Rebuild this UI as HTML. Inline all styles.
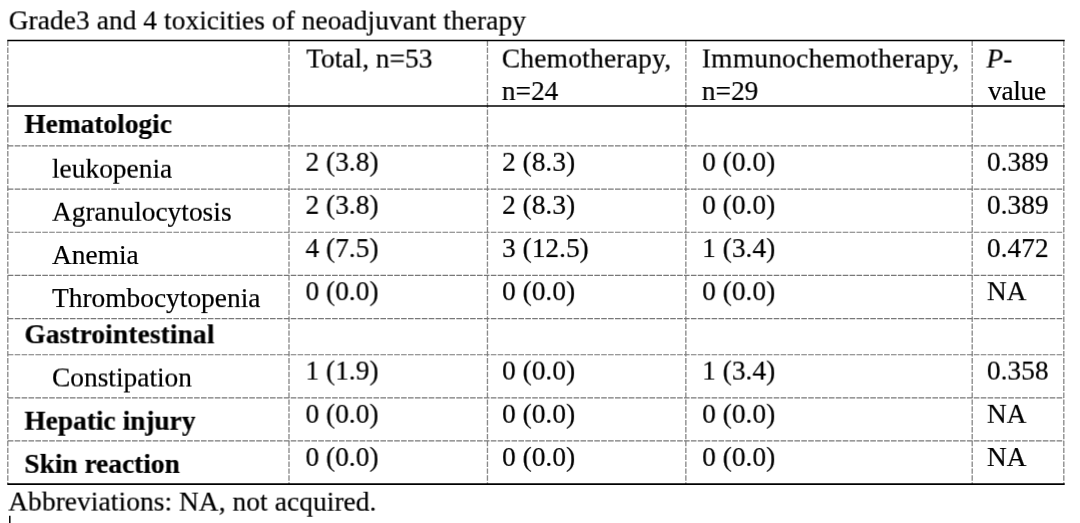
<!DOCTYPE html>
<html><head><meta charset="utf-8"><title>Table</title>
<style>
html,body{margin:0;padding:0;background:#fff;}
body{width:1080px;height:523px;position:relative;overflow:hidden;font-family:"Liberation Serif",serif;font-size:27.4px;color:#000;}
.t{position:absolute;white-space:nowrap;line-height:0;height:0;transform-origin:50% 0;will-change:transform;-webkit-text-stroke:0.2px #000;}
.t span{display:inline-block;line-height:0;vertical-align:baseline;}
</style></head><body>
<svg width="1080" height="523" viewBox="0 0 1080 523" style="position:absolute;left:0;top:0" shape-rendering="auto">
<line x1="7.8" y1="40.6" x2="7.8" y2="484.1" stroke="#8a8a8a" stroke-width="1.35" stroke-dasharray="5.4 1.5"/>
<line x1="289.0" y1="40.6" x2="289.0" y2="484.1" stroke="#8a8a8a" stroke-width="1.35" stroke-dasharray="5.4 1.5"/>
<line x1="487.45" y1="40.6" x2="487.45" y2="484.1" stroke="#8a8a8a" stroke-width="1.35" stroke-dasharray="5.4 1.5"/>
<line x1="685.85" y1="40.6" x2="685.85" y2="484.1" stroke="#8a8a8a" stroke-width="1.35" stroke-dasharray="5.4 1.5"/>
<line x1="972.2" y1="40.6" x2="972.2" y2="484.1" stroke="#8a8a8a" stroke-width="1.35" stroke-dasharray="5.4 1.5"/>
<line x1="1063.8" y1="40.6" x2="1063.8" y2="484.1" stroke="#8a8a8a" stroke-width="1.35" stroke-dasharray="5.4 1.5"/>
<line x1="7.8" y1="145.9" x2="1063.8" y2="145.9" stroke="#787878" stroke-width="1.15" stroke-dasharray="5.6 1.3"/>
<line x1="7.8" y1="189.05" x2="1063.8" y2="189.05" stroke="#787878" stroke-width="1.15" stroke-dasharray="5.6 1.3"/>
<line x1="7.8" y1="232.2" x2="1063.8" y2="232.2" stroke="#787878" stroke-width="1.15" stroke-dasharray="5.6 1.3"/>
<line x1="7.8" y1="275.35" x2="1063.8" y2="275.35" stroke="#787878" stroke-width="1.15" stroke-dasharray="5.6 1.3"/>
<line x1="7.8" y1="318.55" x2="1063.8" y2="318.55" stroke="#787878" stroke-width="1.15" stroke-dasharray="5.6 1.3"/>
<line x1="7.8" y1="354.7" x2="1063.8" y2="354.7" stroke="#787878" stroke-width="1.15" stroke-dasharray="5.6 1.3"/>
<line x1="7.8" y1="397.9" x2="1063.8" y2="397.9" stroke="#787878" stroke-width="1.15" stroke-dasharray="5.6 1.3"/>
<line x1="7.8" y1="440.9" x2="1063.8" y2="440.9" stroke="#787878" stroke-width="1.15" stroke-dasharray="5.6 1.3"/>
<line x1="7.3" y1="40.6" x2="1064.7" y2="40.6" stroke="#000" stroke-width="1.5"/>
<line x1="7.3" y1="106.0" x2="1064.7" y2="106.0" stroke="#000" stroke-width="1.6"/>
<line x1="7.3" y1="484.1" x2="1064.7" y2="484.1" stroke="#000" stroke-width="1.7"/>
<line x1="9.8" y1="515.7" x2="9.8" y2="523" stroke="#000" stroke-width="1.5"/>
</svg>
<div class="t" style="left:8px;top:20px;transform:translate(0.7px,0.5px) rotate(0.03deg);letter-spacing:0.065px;"><span>Grade3 and 4 toxicities of neoadjuvant therapy</span></div>
<div class="t" style="left:306px;top:58px;transform:translate(0.3px,0.55px) rotate(0.03deg);"><span>Total, n=53</span></div>
<div class="t" style="left:501px;top:58px;transform:translate(0.8px,0.55px) rotate(0.03deg);letter-spacing:0.25px;"><span>Chemotherapy,</span></div>
<div class="t" style="left:501px;top:91px;transform:translate(0.8px,0.0px) rotate(0.03deg);"><span>n=24</span></div>
<div class="t" style="left:701px;top:58px;transform:translate(0.8px,0.55px) rotate(0.03deg);letter-spacing:0.24px;"><span>Immunochemotherapy,</span></div>
<div class="t" style="left:701px;top:91px;transform:translate(0.8px,0.0px) rotate(0.03deg);"><span>n=29</span></div>
<div class="t" style="left:986px;top:58px;transform:translate(0.5px,0.55px) rotate(0.03deg);"><span><i>P</i>-</span></div>
<div class="t" style="left:988px;top:91px;transform:translate(0px,0.0px) rotate(0.03deg);letter-spacing:-0.3px;"><span>value</span></div>
<div class="t" style="left:24px;top:124px;transform:translate(0.4px,0.0px) rotate(0.03deg);font-weight:bold;"><span>Hematologic</span></div>
<div class="t" style="left:52px;top:168px;transform:translate(0.0px,0.75px) rotate(0.03deg);"><span>leukopenia</span></div>
<div class="t" style="left:305px;top:161px;transform:translate(0.5px,0.85px) rotate(0.03deg);"><span>2 (3.8)</span></div>
<div class="t" style="left:502px;top:161px;transform:translate(0.1px,0.85px) rotate(0.03deg);"><span>2 (8.3)</span></div>
<div class="t" style="left:702px;top:161px;transform:translate(0.2px,0.85px) rotate(0.03deg);"><span>0 (0.0)</span></div>
<div class="t" style="left:986px;top:161px;transform:translate(0.9px,0.85px) rotate(0.03deg);"><span>0.389</span></div>
<div class="t" style="left:52px;top:211px;transform:translate(0.0px,0.8px) rotate(0.03deg);"><span>Agranulocytosis</span></div>
<div class="t" style="left:305px;top:204px;transform:translate(0.5px,0.9px) rotate(0.03deg);"><span>2 (3.8)</span></div>
<div class="t" style="left:502px;top:204px;transform:translate(0.1px,0.9px) rotate(0.03deg);"><span>2 (8.3)</span></div>
<div class="t" style="left:702px;top:204px;transform:translate(0.2px,0.9px) rotate(0.03deg);"><span>0 (0.0)</span></div>
<div class="t" style="left:986px;top:204px;transform:translate(0.9px,0.9px) rotate(0.03deg);"><span>0.389</span></div>
<div class="t" style="left:52px;top:255px;transform:translate(0.0px,0.0px) rotate(0.03deg);"><span>Anemia</span></div>
<div class="t" style="left:305px;top:248px;transform:translate(0.5px,0.1px) rotate(0.03deg);"><span>4 (7.5)</span></div>
<div class="t" style="left:502px;top:248px;transform:translate(0.1px,0.1px) rotate(0.03deg);"><span>3 (12.5)</span></div>
<div class="t" style="left:702px;top:248px;transform:translate(0.2px,0.1px) rotate(0.03deg);"><span>1 (3.4)</span></div>
<div class="t" style="left:986px;top:248px;transform:translate(0.9px,0.1px) rotate(0.03deg);"><span>0.472</span></div>
<div class="t" style="left:52px;top:298px;transform:translate(0.0px,0.1px) rotate(0.03deg);"><span>Thrombocytopenia</span></div>
<div class="t" style="left:305px;top:291px;transform:translate(0.5px,0.2px) rotate(0.03deg);"><span>0 (0.0)</span></div>
<div class="t" style="left:502px;top:291px;transform:translate(0.1px,0.2px) rotate(0.03deg);"><span>0 (0.0)</span></div>
<div class="t" style="left:702px;top:291px;transform:translate(0.2px,0.2px) rotate(0.03deg);"><span>0 (0.0)</span></div>
<div class="t" style="left:986px;top:291px;transform:translate(0.9px,0.2px) rotate(0.03deg);"><span>NA</span></div>
<div class="t" style="left:24px;top:334px;transform:translate(0.4px,0.3px) rotate(0.03deg);font-weight:bold;letter-spacing:0.12px;"><span>Gastrointestinal</span></div>
<div class="t" style="left:52px;top:377px;transform:translate(0.0px,0.5px) rotate(0.03deg);"><span>Constipation</span></div>
<div class="t" style="left:305px;top:370px;transform:translate(0.5px,0.6px) rotate(0.03deg);"><span>1 (1.9)</span></div>
<div class="t" style="left:502px;top:370px;transform:translate(0.1px,0.6px) rotate(0.03deg);"><span>0 (0.0)</span></div>
<div class="t" style="left:702px;top:370px;transform:translate(0.2px,0.6px) rotate(0.03deg);"><span>1 (3.4)</span></div>
<div class="t" style="left:986px;top:370px;transform:translate(0.9px,0.6px) rotate(0.03deg);"><span>0.358</span></div>
<div class="t" style="left:24px;top:420px;transform:translate(0.4px,0.75px) rotate(0.03deg);font-weight:bold;"><span>Hepatic injury</span></div>
<div class="t" style="left:305px;top:413px;transform:translate(0.5px,0.85px) rotate(0.03deg);"><span>0 (0.0)</span></div>
<div class="t" style="left:502px;top:413px;transform:translate(0.1px,0.85px) rotate(0.03deg);"><span>0 (0.0)</span></div>
<div class="t" style="left:702px;top:413px;transform:translate(0.2px,0.85px) rotate(0.03deg);"><span>0 (0.0)</span></div>
<div class="t" style="left:986px;top:413px;transform:translate(0.9px,0.85px) rotate(0.03deg);"><span>NA</span></div>
<div class="t" style="left:24px;top:463px;transform:translate(0.4px,0.9px) rotate(0.03deg);font-weight:bold;"><span>Skin reaction</span></div>
<div class="t" style="left:305px;top:457px;transform:translate(0.5px,0.0px) rotate(0.03deg);"><span>0 (0.0)</span></div>
<div class="t" style="left:502px;top:457px;transform:translate(0.1px,0.0px) rotate(0.03deg);"><span>0 (0.0)</span></div>
<div class="t" style="left:702px;top:457px;transform:translate(0.2px,0.0px) rotate(0.03deg);"><span>0 (0.0)</span></div>
<div class="t" style="left:986px;top:457px;transform:translate(0.9px,0.0px) rotate(0.03deg);"><span>NA</span></div>
<div class="t" style="left:8px;top:501px;transform:translate(0.3px,0.65px) rotate(0.03deg);letter-spacing:0.075px;"><span>Abbreviations: NA, not acquired.</span></div>
</body></html>
